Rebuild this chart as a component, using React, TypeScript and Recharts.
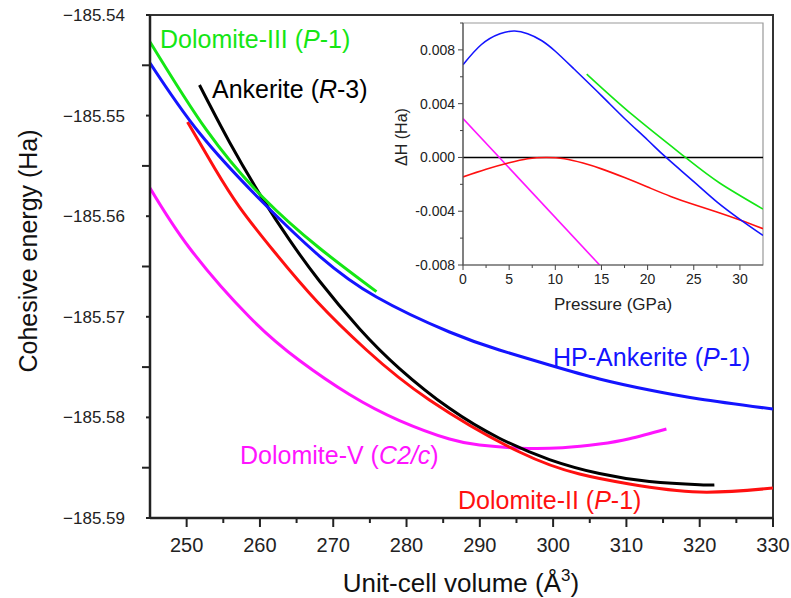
import React from 'react';
import { LineChart, Line, XAxis, YAxis, ReferenceArea, ReferenceLine } from 'recharts';

const FONT = '"Liberation Sans", Arial, Helvetica, sans-serif';

// main panel: cohesive energy (Ha) against unit-cell volume (Å^3)
const dolomiteIII = [
  { v: 245.0, e: -185.54268 },
  { v: 252.7, e: -185.55143 },
  { v: 260.35, e: -185.55809 },
  { v: 268.1, e: -185.56316 },
  { v: 275.9, e: -185.5675 },
];

const hpAnkerite = [
  { v: 245.0, e: -185.54477 },
  { v: 251.75, e: -185.55173 },
  { v: 260.35, e: -185.55859 },
  { v: 268.12, e: -185.56396 },
  { v: 275.9, e: -185.56803 },
  { v: 285.86, e: -185.57151 },
  { v: 292.67, e: -185.5733 },
  { v: 299.5, e: -185.57479 },
  { v: 306.32, e: -185.57618 },
  { v: 313.14, e: -185.57728 },
  { v: 319.96, e: -185.57817 },
  { v: 330.0, e: -185.57917 },
];

const ankerite = [
  { v: 251.75, e: -185.54696 },
  { v: 255.85, e: -185.55264 },
  { v: 260.35, e: -185.55825 },
  { v: 264.03, e: -185.56236 },
  { v: 268.12, e: -185.56644 },
  { v: 273.58, e: -185.57118 },
  { v: 279.04, e: -185.57514 },
  { v: 285.86, e: -185.5791 },
  { v: 292.67, e: -185.58207 },
  { v: 299.5, e: -185.58419 },
  { v: 306.32, e: -185.58558 },
  { v: 313.14, e: -185.58637 },
  { v: 319.96, e: -185.58669 },
  { v: 322.0, e: -185.58672 },
];

const dolomiteII = [
  { v: 250.12, e: -185.55064 },
  { v: 253.8, e: -185.55521 },
  { v: 257.21, e: -185.55909 },
  { v: 261.99, e: -185.56356 },
  { v: 267.85, e: -185.56853 },
  { v: 274.54, e: -185.5733 },
  { v: 283.13, e: -185.57827 },
  { v: 295.41, e: -185.58344 },
  { v: 303.6, e: -185.58563 },
  { v: 310.4, e: -185.58662 },
  { v: 319.96, e: -185.58742 },
  { v: 330.0, e: -185.58702 },
];

const dolomiteV = [
  { v: 245.0, e: -185.5572 },
  { v: 250.39, e: -185.56316 },
  { v: 258.57, e: -185.57002 },
  { v: 265.4, e: -185.57434 },
  { v: 272.22, e: -185.57772 },
  { v: 279.04, e: -185.58031 },
  { v: 285.86, e: -185.58215 },
  { v: 289.95, e: -185.58274 },
  { v: 295.41, e: -185.58306 },
  { v: 301.28, e: -185.58302 },
  { v: 306.32, e: -185.58265 },
  { v: 310.42, e: -185.58212 },
  { v: 315.46, e: -185.58115 },
];

const volumeTicks = [250, 255, 260, 265, 270, 275, 280, 285, 290, 295, 300, 305, 310, 315, 320, 325, 330];
const energyTicks = [-185.59, -185.585, -185.58, -185.575, -185.57, -185.565, -185.56, -185.555, -185.55, -185.545, -185.54];

// inset: enthalpy difference (Ha) against pressure (GPa)
const insetBlue = [
  { p: 0, dh: 0.0069 },
  { p: 2, dh: 0.0084 },
  { p: 4, dh: 0.0092 },
  { p: 5.6, dh: 0.0094 },
  { p: 7, dh: 0.0092 },
  { p: 8.5, dh: 0.0087 },
  { p: 10, dh: 0.0079 },
  { p: 12, dh: 0.0066 },
  { p: 15, dh: 0.0046 },
  { p: 17.5, dh: 0.0029 },
  { p: 20, dh: 0.0013 },
  { p: 22, dh: 0.0 },
  { p: 25, dh: -0.0018 },
  { p: 27.5, dh: -0.0033 },
  { p: 30, dh: -0.0046 },
  { p: 32.5, dh: -0.0058 },
];

const insetGreen = [
  { p: 13.4, dh: 0.0062 },
  { p: 18.4, dh: 0.00314 },
  { p: 24.1, dh: 0.0 },
  { p: 27.8, dh: -0.0019 },
  { p: 32.5, dh: -0.00384 },
];

const insetRed = [
  { p: 0, dh: -0.00145 },
  { p: 2.5, dh: -0.00088 },
  { p: 5, dh: -0.0004 },
  { p: 7, dh: -0.0001 },
  { p: 9, dh: 0.0 },
  { p: 11, dh: -0.0001 },
  { p: 13, dh: -0.00042 },
  { p: 15, dh: -0.00085 },
  { p: 17.5, dh: -0.0015 },
  { p: 20, dh: -0.0022 },
  { p: 22.5, dh: -0.0029 },
  { p: 25, dh: -0.0035 },
  { p: 27.5, dh: -0.00405 },
  { p: 30, dh: -0.00465 },
  { p: 32.5, dh: -0.0053 },
];

const insetMagenta = [
  { p: 0, dh: 0.0029 },
  { p: 14.8, dh: -0.008 },
];

const pressureTicks = [0, 2.5, 5, 7.5, 10, 12.5, 15, 17.5, 20, 22.5, 25, 27.5, 30];
const dhTicks = [-0.008, -0.006, -0.004, -0.002, 0, 0.002, 0.004, 0.006, 0.008, 0.01];

const GREEN = '#14e614';
const BLUE = '#1414ff';
const RED = '#ff1010';
const MAGENTA = '#ff14ff';

const isMultiple = (val: number, step: number) => Math.abs(val / step - Math.round(val / step)) < 1e-6;

const VolumeTick = (props: any) => {
  const { x, y, payload } = props;
  const major = isMultiple(payload.value, 10);
  return (
    <g>
      <line x1={x} x2={x} y1={y} y2={y + (major ? 9 : 5)} stroke="#222" strokeWidth={2} />
      {major && (
        <text x={x} y={y + 34} textAnchor="middle" fontSize={20} fill="#222" fontFamily={FONT}>
          {payload.value}
        </text>
      )}
    </g>
  );
};

const EnergyTick = (props: any) => {
  const { x, y, payload } = props;
  const labelled = isMultiple(payload.value, 0.01);
  return (
    <g>
      <line x1={x} x2={x - (labelled ? 4 : 8)} y1={y} y2={y} stroke="#222" strokeWidth={2} />
      {labelled && (
        <text x={x - 25} y={y} dy="0.35em" textAnchor="end" fontSize={17} fill="#222" fontFamily={FONT}>
          {'\u2212' + Math.abs(payload.value).toFixed(2)}
        </text>
      )}
    </g>
  );
};

const PressureTick = (props: any) => {
  const { x, y, payload } = props;
  const major = isMultiple(payload.value, 5);
  return (
    <g>
      <line x1={x} x2={x} y1={y} y2={y + (major ? 5 : 3)} stroke="#444" strokeWidth={1} />
      {major && (
        <text x={x} y={y + 19} textAnchor="middle" fontSize={14} fill="#222" fontFamily={FONT}>
          {payload.value}
        </text>
      )}
    </g>
  );
};

const DhTick = (props: any) => {
  const { x, y, payload } = props;
  const major = isMultiple(payload.value, 0.004);
  return (
    <g>
      <line x1={x} x2={x - (major ? 5 : 3)} y1={y} y2={y} stroke="#444" strokeWidth={1} />
      {major && (
        <text x={x - 8} y={y} dy="0.35em" textAnchor="end" fontSize={14} fill="#222" fontFamily={FONT}>
          {payload.value.toFixed(3)}
        </text>
      )}
    </g>
  );
};

export default function App() {
  return (
    <div style={{ position: 'absolute', left: 0, top: 0, width: 791, height: 598, background: '#fff' }}>
      <LineChart width={791} height={598} margin={{ top: 15, right: 18, bottom: 0, left: 0 }}>
        <XAxis
          type="number"
          dataKey="v"
          domain={[245, 330]}
          ticks={volumeTicks}
          interval={0}
          allowDataOverflow
          height={80}
          tickSize={0}
          tickMargin={0}
          tick={(p: any) => <VolumeTick {...p} />}
          axisLine={{ stroke: '#222', strokeWidth: 2.5 }}
        />
        <YAxis
          type="number"
          dataKey="e"
          domain={[-185.59, -185.54]}
          ticks={energyTicks}
          interval={0}
          allowDataOverflow
          width={150}
          tickSize={0}
          tickMargin={0}
          tick={(p: any) => <EnergyTick {...p} />}
          axisLine={{ stroke: '#222', strokeWidth: 2.5 }}
        />
        <ReferenceArea x1={245} x2={330} y1={-185.59} y2={-185.54} fill="none" stroke="#333" strokeWidth={2} />
        <Line data={dolomiteV} dataKey="e" type="natural" stroke={MAGENTA} strokeWidth={3} dot={false} isAnimationActive={false} />
        <Line data={dolomiteII} dataKey="e" type="natural" stroke={RED} strokeWidth={3} dot={false} isAnimationActive={false} />
        <Line data={ankerite} dataKey="e" type="natural" stroke="#000" strokeWidth={3} dot={false} isAnimationActive={false} />
        <Line data={hpAnkerite} dataKey="e" type="natural" stroke={BLUE} strokeWidth={3} dot={false} isAnimationActive={false} />
        <Line data={dolomiteIII} dataKey="e" type="natural" stroke={GREEN} strokeWidth={3} dot={false} isAnimationActive={false} />
      </LineChart>

      <div style={{ position: 'absolute', left: 390, top: 10, width: 390, height: 310 }}>
        <LineChart width={390} height={310} margin={{ top: 13, right: 17, bottom: 0, left: 0 }}>
          <XAxis
            type="number"
            dataKey="p"
            domain={[0, 32.5]}
            ticks={pressureTicks}
            interval={0}
            allowDataOverflow
            height={55}
            tickSize={0}
            tickMargin={0}
            tick={(p: any) => <PressureTick {...p} />}
            axisLine={{ stroke: '#555', strokeWidth: 1.2 }}
          />
          <YAxis
            type="number"
            dataKey="dh"
            domain={[-0.008, 0.01]}
            ticks={dhTicks}
            interval={0}
            allowDataOverflow
            width={73}
            tickSize={0}
            tickMargin={0}
            tick={(p: any) => <DhTick {...p} />}
            axisLine={{ stroke: '#555', strokeWidth: 1.2 }}
          />
          <ReferenceArea x1={0} x2={32.5} y1={-0.008} y2={0.01} fill="none" stroke="#999" strokeWidth={1.2} />
          <ReferenceLine y={0} stroke="#000" strokeWidth={1.5} />
          <Line data={insetMagenta} dataKey="dh" type="linear" stroke={MAGENTA} strokeWidth={1.6} dot={false} isAnimationActive={false} />
          <Line data={insetRed} dataKey="dh" type="natural" stroke={RED} strokeWidth={1.6} dot={false} isAnimationActive={false} />
          <Line data={insetBlue} dataKey="dh" type="natural" stroke={BLUE} strokeWidth={1.6} dot={false} isAnimationActive={false} />
          <Line data={insetGreen} dataKey="dh" type="natural" stroke={GREEN} strokeWidth={1.6} dot={false} isAnimationActive={false} />
        </LineChart>
      </div>

      <svg width={791} height={598} style={{ position: 'absolute', left: 0, top: 0, pointerEvents: 'none' }} fontFamily={FONT}>
        <text x={160} y={48} fontSize={25} fill={GREEN}>
          Dolomite-III (<tspan fontStyle="italic">P</tspan>-1)
        </text>
        <text x={212} y={98} fontSize={25} fill="#000">
          Ankerite (<tspan fontStyle="italic">R</tspan>-3)
        </text>
        <text x={553} y={366} fontSize={25} fill={BLUE}>
          HP-Ankerite (<tspan fontStyle="italic">P</tspan>-1)
        </text>
        <text x={240} y={464} fontSize={25} fill={MAGENTA}>
          Dolomite-V (<tspan fontStyle="italic">C2/c</tspan>)
        </text>
        <text x={458} y={509} fontSize={25} fill={RED}>
          Dolomite-II (<tspan fontStyle="italic">P</tspan>-1)
        </text>
        <text x={28} y={251} fontSize={25} fill="#111" textAnchor="middle" dominantBaseline="central" transform="rotate(-90 28 251)">
          Cohesive energy (Ha)
        </text>
        <text x={461} y={592} fontSize={26} fill="#111" textAnchor="middle">
          Unit-cell volume (Å<tspan fontSize={17} dy={-11}>3</tspan><tspan dy={11}>)</tspan>
        </text>
        <text x={401} y={137} fontSize={16} fill="#222" textAnchor="middle" dominantBaseline="central" transform="rotate(-90 401 137)">
          ΔH (Ha)
        </text>
        <text x={613} y={310} fontSize={17} fill="#222" textAnchor="middle">
          Pressure (GPa)
        </text>
      </svg>
    </div>
  );
}
